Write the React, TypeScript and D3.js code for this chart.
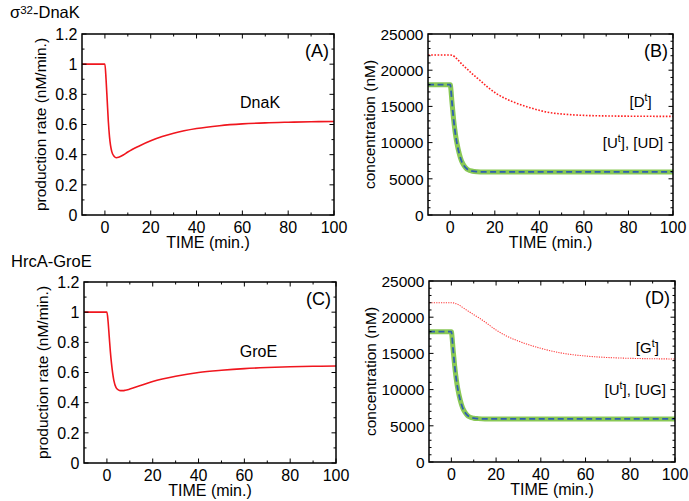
import React from "react";
import * as d3 from "d3";

// ---------- data ----------
const xTickValues = [0, 20, 40, 60, 80, 100];
const rateTickValues = [0, 0.2, 0.4, 0.6, 0.8, 1, 1.2];
const rateTickLabels = ["0", "0.2", "0.4", "0.6", "0.8", "1", "1.2"];
const concTickValues = [0, 5000, 10000, 15000, 20000, 25000];
const concTickLabels = ["0", "5000", "10000", "15000", "20000", "25000"];

// Panel A: DnaK production rate
const dnakTime = [-10, 0, 0.5, 1, 1.5, 2, 3, 4, 5, 6, 8, 10, 15, 20, 25, 30, 40, 50, 60, 70, 80, 90, 100];
const dnakRate = [1, 1, 0.9, 0.76, 0.62, 0.52, 0.42, 0.39, 0.38, 0.383, 0.398, 0.418, 0.458, 0.492, 0.52, 0.542, 0.573, 0.592, 0.604, 0.611, 0.615, 0.618, 0.62];

// Panel C: GroE production rate
const groeTime = [-10, 0, 0.5, 1, 1.5, 2, 3, 4, 5, 6, 7, 8, 10, 15, 20, 30, 40, 50, 60, 70, 80, 90, 100];
const groeRate = [1, 1, 0.94, 0.84, 0.74, 0.66, 0.55, 0.5, 0.485, 0.48, 0.48, 0.482, 0.49, 0.515, 0.54, 0.575, 0.6, 0.615, 0.626, 0.633, 0.638, 0.641, 0.643];

// Panel B: [Dt] and [Ut],[UD]
const dtTime = [-10, 0, 1, 3, 5, 7.5, 10, 13.4, 17, 20.9, 25, 28.4, 35.8, 43.3, 52.2, 60, 73, 85, 100];
const dtConc = [22100, 22100, 22050, 21560, 20900, 20180, 19450, 18580, 17600, 16740, 16050, 15600, 14820, 14220, 13900, 13760, 13670, 13640, 13620];
const uTime = [-10, 0, 0.3, 0.7, 1, 1.5, 2, 2.5, 3, 4, 5, 6, 7, 8, 10, 12, 15, 100];
const uConcB = [18000, 18000, 17300, 15800, 14800, 13200, 11900, 10800, 9900, 8500, 7500, 6900, 6500, 6250, 6050, 5980, 5950, 5950];

// Panel D: [Gt] and [Ut],[UG]
const gtTime = [-10, 0, 3, 6, 10, 12.7, 15, 20, 25, 30, 40, 50, 60, 70, 80, 90, 100];
const gtConc = [22000, 22000, 21750, 21150, 20350, 19840, 19350, 18230, 17350, 16700, 15700, 15010, 14640, 14430, 14320, 14260, 14230];
const uConcD = [18000, 18000, 17300, 15800, 14800, 13200, 11900, 10800, 9900, 8500, 7500, 6900, 6500, 6250, 6050, 5990, 5950, 5950];

const FONT = "'Liberation Sans', Arial, Helvetica, sans-serif";

type Series = {
  t: number[];
  v: number[];
  stroke: string;
  width: number;
  dash?: string;
  opacity?: number;
};

type Label = { t: number; v: number; size?: number; parts: { text: string; sup?: boolean }[] };

function Panel(props: {
  left: number;
  top: number;
  width: number;
  height: number;
  yMax: number;
  yTicks: number[];
  yLabels: string[];
  yMinorStep: number;
  yTitle: string;
  yTitleOffset: number;
  tickFont: number;
  tag: string;
  series: Series[];
  labels: Label[];
}) {
  const { left, top, width, height } = props;
  const x = d3.scaleLinear().domain([-10, 100]).range([left, left + width]);
  const y = d3.scaleLinear().domain([0, props.yMax]).range([top + height, top]);
  const bottom = top + height;
  const right = left + width;
  const xMinor = d3.range(0, 101, 10);
  const yMinor = d3.range(0, props.yMax + 1e-9, props.yMinorStep);
  const majorLen = 4.5;
  const minorLen = 2.5;
  const isMajorY = (v: number) => props.yTicks.some((t) => Math.abs(t - v) < 1e-6);
  const isMajorX = (v: number) => xTickValues.includes(v);

  const clipId = "clip-" + props.tag.replace(/[()]/g, "");

  return (
    <g>
      <defs>
        <clipPath id={clipId}>
          <rect x={left} y={top} width={width} height={height} />
        </clipPath>
      </defs>
      <g clipPath={`url(#${clipId})`}>
        {props.series.map((s, i) => {
          const pts: [number, number][] = s.t.map((t, j) => [t, s.v[j]]);
          const line = d3
            .line<[number, number]>()
            .x((d) => x(d[0]))
            .y((d) => y(d[1]))
            .curve(d3.curveMonotoneX);
          return (
            <path
              key={i}
              d={line(pts) || ""}
              fill="none"
              stroke={s.stroke}
              strokeWidth={s.width}
              strokeDasharray={s.dash}
              strokeOpacity={s.opacity ?? 1}
              strokeLinejoin="round"
            />
          );
        })}
      </g>
      {xMinor.map((v) => {
        const L = isMajorX(v) ? majorLen : minorLen;
        return (
          <g key={"xt" + v}>
            <line x1={x(v)} x2={x(v)} y1={bottom} y2={bottom - L} stroke="#000" strokeWidth={1} />
            <line x1={x(v)} x2={x(v)} y1={top} y2={top + L} stroke="#000" strokeWidth={1} />
          </g>
        );
      })}
      {yMinor.map((v, i) => {
        const L = isMajorY(v) ? majorLen : minorLen;
        return (
          <g key={"yt" + i}>
            <line x1={left} x2={left + L} y1={y(v)} y2={y(v)} stroke="#000" strokeWidth={1} />
            <line x1={right} x2={right - L} y1={y(v)} y2={y(v)} stroke="#000" strokeWidth={1} />
          </g>
        );
      })}
      <rect x={left} y={top} width={width} height={height} fill="none" stroke="#000" strokeWidth={1.5} />
      {xTickValues.map((v) => (
        <text key={"xl" + v} x={x(v)} y={bottom + 17.5} textAnchor="middle" fontSize={16} fontFamily={FONT}>
          {String(v)}
        </text>
      ))}
      {props.yTicks.map((v, i) => (
        <text key={"yl" + i} x={left - 4.5} y={y(v) + 5.7} textAnchor="end" fontSize={props.tickFont} fontFamily={FONT}>
          {props.yLabels[i]}
        </text>
      ))}
      <text x={(left + right) / 2} y={bottom + 33} textAnchor="middle" fontSize={16} fontFamily={FONT}>
        TIME (min.)
      </text>
      <text
        transform={`translate(${left - props.yTitleOffset},${(top + bottom) / 2}) rotate(-90)`}
        textAnchor="middle"
        fontSize={15.5}
        fontFamily={FONT}
      >
        {props.yTitle}
      </text>
      <text x={right - 5} y={top + 23} textAnchor="end" fontSize={18} fontFamily={FONT}>
        {props.tag}
      </text>
      {props.labels.map((lb, i) => (
        <text key={"lb" + i} x={x(lb.t)} y={y(lb.v)} fontSize={lb.size || 15} fontFamily={FONT}>
          {lb.parts.map((p, j) =>
            p.sup ? (
              <tspan key={j} fontSize={10.5} dy={-6}>
                {p.text}
              </tspan>
            ) : (
              <tspan key={j} dy={j > 0 && lb.parts[j - 1].sup ? 6 : 0}>
                {p.text}
              </tspan>
            )
          )}
        </text>
      ))}
    </g>
  );
}

const RED = "#f0161e";
const GREEN = "#7cc242";
const BLUE = "#2f5fae";

export default function App() {
  return (
    <svg width={689} height={501} style={{ position: "absolute", left: 0, top: 0, background: "#fff" }}>
      <rect width={689} height={501} fill="#fff" />
      <text x={10} y={18} fontSize={16.5} fontFamily={FONT}>
        σ<tspan fontSize={11.5} dy={-4}>32</tspan>
        <tspan dy={4}>-DnaK</tspan>
      </text>
      <text x={11} y={267} fontSize={16.5} fontFamily={FONT}>
        HrcA-GroE
      </text>

      <Panel
        left={82}
        top={34}
        width={252}
        height={181}
        yMax={1.2}
        yTicks={rateTickValues}
        yLabels={rateTickLabels}
        yMinorStep={0.1}
        yTitle="production rate (nM/min.)"
        yTitleOffset={36}
        tickFont={16}
        tag="(A)"
        series={[{ t: dnakTime, v: dnakRate, stroke: RED, width: 1.6 }]}
        labels={[{ t: 59, v: 0.71, size: 16, parts: [{ text: "DnaK" }] }]}
      />
      <Panel
        left={428}
        top={34}
        width={245}
        height={181}
        yMax={25000}
        yTicks={concTickValues}
        yLabels={concTickLabels}
        yMinorStep={1000}
        yTitle="concentration (nM)"
        yTitleOffset={53}
        tickFont={15.5}
        tag="(B)"
        series={[
          { t: uTime, v: uConcB, stroke: GREEN, width: 5, opacity: 0.9 },
          { t: uTime, v: uConcB, stroke: BLUE, width: 1.8, dash: "6,3.5" },
          { t: dtTime, v: dtConc, stroke: "#ff2020", width: 1.6, dash: "1.6,1.6" },
        ]}
        labels={[
          { t: 80.5, v: 14900, parts: [{ text: "[D" }, { text: "t", sup: true }, { text: "]" }] },
          { t: 68.5, v: 9300, parts: [{ text: "[U" }, { text: "t", sup: true }, { text: "], [UD]" }] },
        ]}
      />
      <Panel
        left={84}
        top={282}
        width={252}
        height={181}
        yMax={1.2}
        yTicks={rateTickValues}
        yLabels={rateTickLabels}
        yMinorStep={0.1}
        yTitle="production rate (nM/min.)"
        yTitleOffset={36}
        tickFont={16}
        tag="(C)"
        series={[{ t: groeTime, v: groeRate, stroke: RED, width: 1.6 }]}
        labels={[{ t: 58, v: 0.7, size: 16, parts: [{ text: "GroE" }] }]}
      />
      <Panel
        left={429}
        top={281}
        width={246}
        height={181}
        yMax={25000}
        yTicks={concTickValues}
        yLabels={concTickLabels}
        yMinorStep={1000}
        yTitle="concentration (nM)"
        yTitleOffset={53}
        tickFont={15.5}
        tag="(D)"
        series={[
          { t: uTime, v: uConcD, stroke: GREEN, width: 5, opacity: 0.9 },
          { t: uTime, v: uConcD, stroke: BLUE, width: 1.8, dash: "6,3.5" },
          { t: gtTime, v: gtConc, stroke: "#ff3a3a", width: 1.1, dash: "1.2,1.2" },
        ]}
        labels={[
          { t: 82.5, v: 15000, parts: [{ text: "[G" }, { text: "t", sup: true }, { text: "]" }] },
          { t: 68.5, v: 9200, parts: [{ text: "[U" }, { text: "t", sup: true }, { text: "], [UG]" }] },
        ]}
      />
    </svg>
  );
}
